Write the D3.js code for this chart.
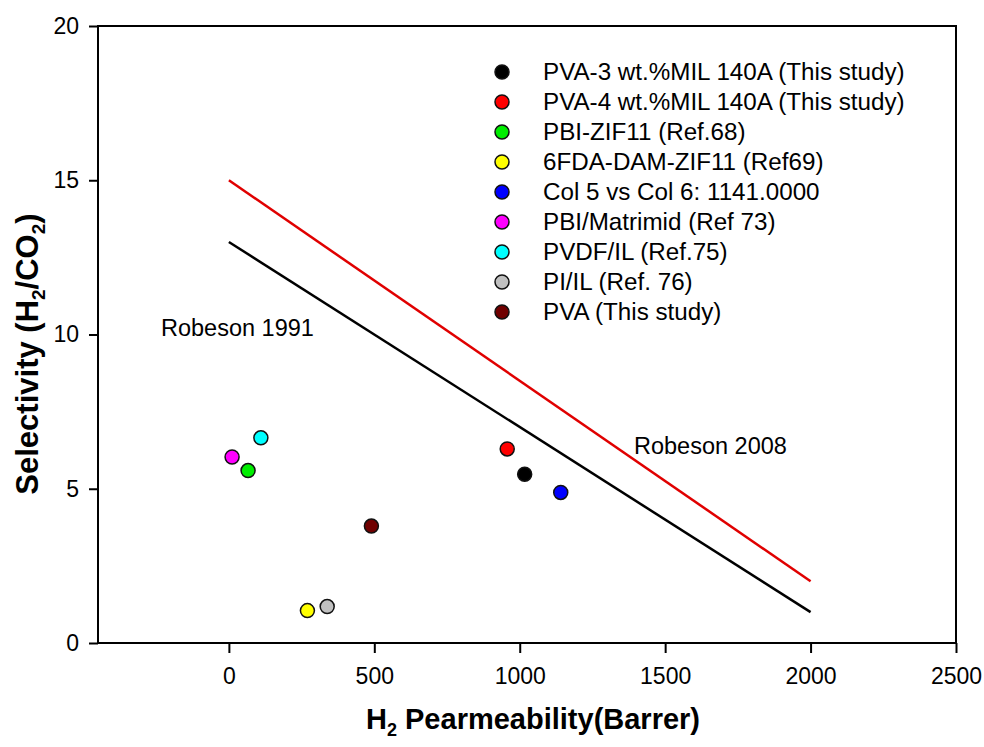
<!DOCTYPE html>
<html>
<head>
<meta charset="utf-8">
<style>
  body { margin: 0; background: #fff; }
  text { font-family: "Liberation Sans", Arial, sans-serif; }
</style>
</head>
<body>
<script src="https://d3js.org/d3.v7.min.js"></script>
<script>
// data
var names = ['PVA-3 wt.%MIL 140A (This study)', 'PVA-4 wt.%MIL 140A (This study)', 'PBI-ZIF11 (Ref.68)',
             '6FDA-DAM-ZIF11 (Ref69)', 'Col 5 vs Col 6: 1141.0000', 'PBI/Matrimid (Ref 73)',
             'PVDF/IL (Ref.75)', 'PI/IL (Ref. 76)', 'PVA (This study)'];
var colors = ['#000000', '#ff0000', '#00ee00', '#ffff00', '#0000ff', '#ff00ff', '#00ffff', '#c0c0c0', '#700000'];
var perm = [1017, 957, 66, 270, 1141, 11, 110, 338, 490];
var select = [5.47, 6.29, 5.59, 1.05, 4.88, 6.03, 6.65, 1.18, 3.79];

var rob1991 = [[0, 13], [2000, 1]];
var rob2008 = [[0, 15], [2000, 2]];

var xTicks = [0, 500, 1000, 1500, 2000, 2500];
var yTicks = [0, 5, 10, 15, 20];

var width = 984, height = 747;
var mLeft = 98, mRight = 956, mTop = 26, mBottom = 643;

var svg = d3.select('body').append('svg')
    .attr('width', width)
    .attr('height', height);

var x = d3.scaleLinear().domain([-450, 2500]).range([mLeft, mRight]);
var y = d3.scaleLinear().domain([0, 20]).range([mBottom, mTop]);

// frame
svg.append('rect')
    .attr('x', mLeft).attr('y', mTop)
    .attr('width', mRight - mLeft).attr('height', mBottom - mTop)
    .attr('fill', 'none').attr('stroke', '#000').attr('stroke-width', 2);

var xAxis = svg.append('g')
    .attr('transform', 'translate(0,' + mBottom + ')')
    .call(d3.axisBottom(x).tickValues(xTicks).tickFormat(d3.format('d')).tickSize(10).tickPadding(15));
var yAxis = svg.append('g')
    .attr('transform', 'translate(' + mLeft + ',0)')
    .call(d3.axisLeft(y).tickValues(yTicks).tickFormat(d3.format('d')).tickSize(9).tickPadding(10));

[xAxis, yAxis].forEach(function(a) {
  a.select('.domain').remove();
  a.selectAll('line').attr('stroke', '#000').attr('stroke-width', 2);
  a.selectAll('text').attr('font-size', 23).attr('fill', '#000')
    .style('font-family', '"Liberation Sans", Arial, sans-serif');
});

// Robeson lines
var line = d3.line().x(function(d) { return x(d[0]); }).y(function(d) { return y(d[1]); });
svg.append('path').attr('d', line(rob1991)).attr('fill', 'none').attr('stroke', '#000').attr('stroke-width', 2.5);
svg.append('path').attr('d', line(rob2008)).attr('fill', 'none').attr('stroke', '#e00000').attr('stroke-width', 2.5);

svg.append('text').attr('x', 161).attr('y', 336).attr('font-size', 23.5).text('Robeson 1991');
svg.append('text').attr('x', 634).attr('y', 454).attr('font-size', 23.5).text('Robeson 2008');

// points
svg.selectAll('circle.pt')
    .data(perm)
    .enter().append('circle')
    .attr('class', 'pt')
    .attr('cx', function(d) { return x(d); })
    .attr('cy', function(d, i) { return y(select[i]); })
    .attr('r', 7)
    .attr('fill', function(d, i) { return colors[i]; })
    .attr('stroke', '#111')
    .attr('stroke-width', 1.5);

// legend
var lg = svg.append('g').attr('transform', 'translate(502,72)');
var rows = lg.selectAll('g').data(names).enter().append('g')
    .attr('transform', function(d, i) { return 'translate(0,' + (i * 30) + ')'; });
rows.append('circle').attr('r', 7)
    .attr('fill', function(d, i) { return colors[i]; })
    .attr('stroke', '#111').attr('stroke-width', 1.5);
rows.append('text').attr('x', 41).attr('y', 8).attr('font-size', 24.2).text(function(d) { return d; });

// axis titles
var xt = svg.append('text')
    .attr('x', 533).attr('y', 729)
    .attr('text-anchor', 'middle')
    .attr('font-size', 29).attr('font-weight', 'bold');
xt.append('tspan').text('H');
xt.append('tspan').attr('font-size', 18).attr('dy', 7).text('2');
xt.append('tspan').attr('dy', -7).text(' Pearmeability(Barrer)');

var yt = svg.append('text')
    .attr('transform', 'translate(38,354) rotate(-90)')
    .attr('text-anchor', 'middle')
    .attr('font-size', 31).attr('font-weight', 'bold');
yt.append('tspan').text('Selectivity (H');
yt.append('tspan').attr('font-size', 19).attr('dy', 7).text('2');
yt.append('tspan').attr('dy', -7).text('/CO');
yt.append('tspan').attr('font-size', 19).attr('dy', 7).text('2');
yt.append('tspan').attr('dy', -7).text(')');
</script>
</body>
</html>
